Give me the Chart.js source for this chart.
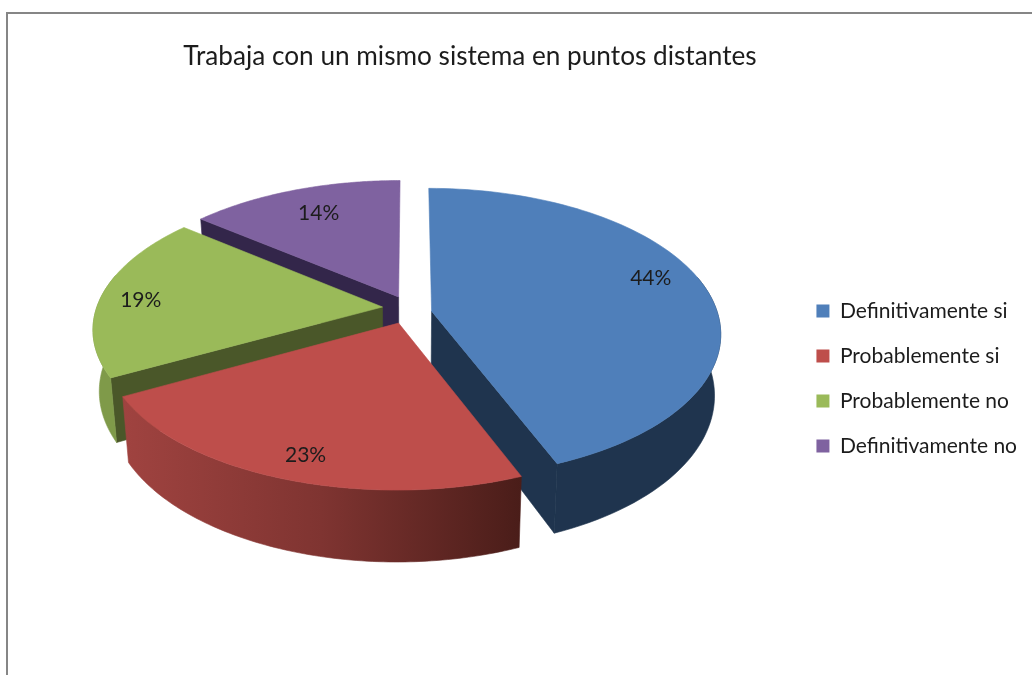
<!DOCTYPE html>
<html>
<head>
<meta charset="utf-8">
<style>
  html, body { margin: 0; padding: 0; background: #fff; }
  #wrap { width: 1032px; height: 675px; }
</style>
<script src="https://cdn.jsdelivr.net/npm/chart.js@4"></script>
</head>
<body>
<div id="wrap"><canvas id="pie"></canvas></div>
<script>
const titleText = 'Trabaja con un mismo sistema en puntos distantes';
const categories = ['Definitivamente si', 'Probablemente si', 'Probablemente no', 'Definitivamente no'];
const values = [44, 23, 19, 14];

const topColors = ['#4f7fba', '#be4e4b', '#9aba59', '#7f62a0'];
const explode = [22, 32, 27, 26];

// look of the 3D pie
const drawOrder = [3, 2, 0, 1];
const shift = { x: 11, y: -69 };
const RX = 286, RY = 137, DEPTH = 60, PERSPECTIVE = 0.15;
const sliceLift = [5, 0, 0, 0];
const sliceStretch = [1.035, 1, 1, 1];
const labelRadius = [0.76, 0.82, 0.84, 0.76];
const labelNudge = [[11, -13], [0, 8], [-6, 4], [2, 0]];

function project(arc, angle, frac, h) {
  const i = arc.$context.dataIndex;
  const mid = (arc.startAngle + arc.endAngle) / 2;
  const off = arc.options.offset / arc.outerRadius;
  const nx = off * Math.cos(mid) + frac * Math.cos(angle);
  const ny = off * Math.sin(mid) + frac * Math.sin(angle);
  const w = 1 - PERSPECTIVE * ny;
  return {
    x: arc.x + shift.x + (nx * RX / w) * (1 - h * 0.02),
    y: arc.y + shift.y + sliceLift[i] + (ny * RY * sliceStretch[i] + h * DEPTH) / w
  };
}

function rimPoints(arc, h, frontOnly) {
  const pts = [];
  const n = 90;
  for (let i = 0; i <= n; i++) {
    const a = arc.startAngle + (arc.endAngle - arc.startAngle) * i / n;
    if (frontOnly && Math.sin(a) < -0.25) continue;
    pts.push(project(arc, a, 1, h));
  }
  return pts;
}

function fillPoly(ctx, pts, fill) {
  ctx.beginPath();
  pts.forEach((p, i) => i ? ctx.lineTo(p.x, p.y) : ctx.moveTo(p.x, p.y));
  ctx.closePath();
  ctx.fillStyle = fill;
  ctx.strokeStyle = fill;
  ctx.lineWidth = 0.6;
  ctx.fill();
  ctx.stroke();
}

function wallStyle(ctx, i) {
  if (i === 1) {
    const g = ctx.createLinearGradient(122, 0, 521, 0);
    g.addColorStop(0, '#a04340');
    g.addColorStop(0.5, '#7f3431');
    g.addColorStop(1, '#4a1d19');
    return g;
  }
  return ['#1f344e', '', '#7f9a49', '#33264a'][i];
}
const cutColors = ['#1f344e', '#7f3431', '#4a5729', '#33264a'];

const pie3d = {
  id: 'pie3d',
  beforeDraw(chart) {
    const ctx = chart.ctx;
    ctx.save();
    ctx.fillStyle = '#868686';
    ctx.fillRect(6, 12, chart.width, 2);
    ctx.fillRect(6, 12, 2, chart.height);
    ctx.restore();
  },
  afterLayout(chart) {
    // title sits left of the page centre, legend lower than the middle
    chart.titleBlock.left -= 46;
    chart.titleBlock.right -= 46;
    chart.legend.left -= 5;
    chart.legend.right -= 5;
    chart.legend.top += 41;
    chart.legend.bottom += 41;
  },
  beforeDatasetsDraw(chart) {
    const ctx = chart.ctx;
    const arcs = chart.getDatasetMeta(0).data;
    ctx.save();
    drawOrder.forEach(i => {
      const arc = arcs[i];
      const top = rimPoints(arc, 0);
      const apexTop = project(arc, arc.startAngle, 0, 0);
      const apexBottom = project(arc, arc.startAngle, 0, 1);
      // cut faces, only the ones turned towards the viewer
      if (Math.cos(arc.startAngle) < -1e-6) {
        fillPoly(ctx, [apexTop, top[0], project(arc, arc.startAngle, 1, 1), apexBottom], cutColors[i]);
      }
      if (Math.cos(arc.endAngle) > 1e-6) {
        fillPoly(ctx, [apexTop, top[top.length - 1], project(arc, arc.endAngle, 1, 1), apexBottom], cutColors[i]);
      }
      // outer wall, front part only
      const wallTop = rimPoints(arc, 0, true);
      const wallBottom = rimPoints(arc, 1, true);
      if (wallTop.length > 1) {
        fillPoly(ctx, wallTop.concat(wallBottom.reverse()), wallStyle(ctx, i));
      }
      // top face
      fillPoly(ctx, [apexTop].concat(top), topColors[i]);
    });
    // percent labels
    ctx.font = '21px Lato';
    ctx.fillStyle = '#1c1c1c';
    ctx.textAlign = 'center';
    ctx.textBaseline = 'middle';
    arcs.forEach((arc, i) => {
      const mid = (arc.startAngle + arc.endAngle) / 2;
      const p = project(arc, mid, labelRadius[i], 0);
      ctx.fillText(values[i] + '%', p.x + labelNudge[i][0], p.y + labelNudge[i][1]);
    });
    ctx.restore();
    return false;
  }
};

new Chart(document.getElementById('pie'), {
  type: 'pie',
  data: {
    labels: categories,
    datasets: [{
      data: values,
      backgroundColor: topColors,
      borderWidth: 0,
      offset: explode
    }]
  },
  options: {
    responsive: true,
    maintainAspectRatio: false,
    animation: false,
    plugins: {
      title: {
        display: true,
        text: titleText,
        color: '#1c1c1c',
        font: { family: 'Lato', size: 26.2, weight: 'normal' },
        padding: { top: 41, bottom: 7 }
      },
      legend: {
        position: 'right',
        labels: {
          color: '#1c1c1c',
          font: { family: 'Lato', size: 21 },
          boxWidth: 13,
          boxHeight: 13,
          padding: 24
        }
      },
      tooltip: { enabled: false }
    }
  },
  plugins: [pie3d]
});
</script>
</body>
</html>
